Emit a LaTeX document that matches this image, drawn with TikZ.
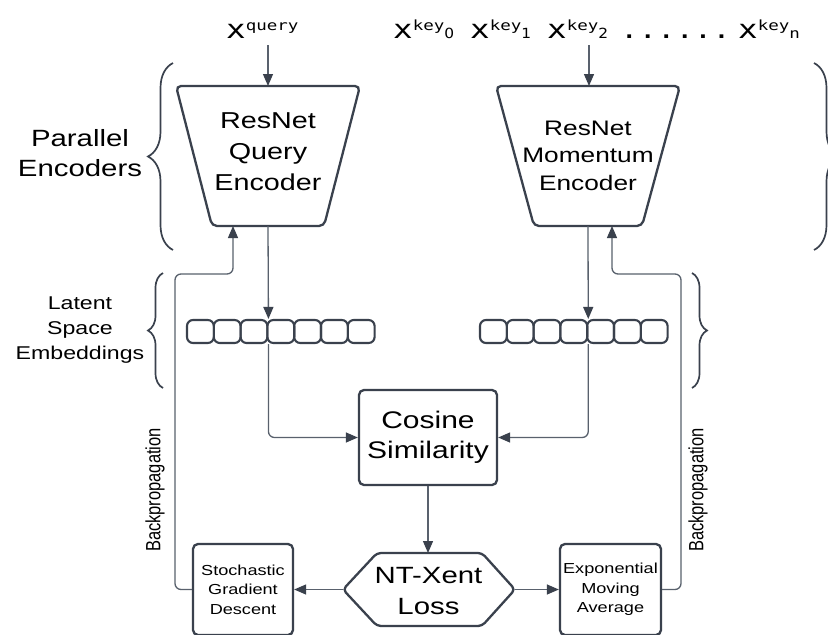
\documentclass[tikz,border=0pt]{standalone}
\usepackage{fontspec}
\setmainfont[FakeStretch=1.25]{Liberation Sans}
\newfontfamily\plainsans{Liberation Sans}
\newfontfamily\monolbl[FakeStretch=1.25]{DejaVu Sans Mono}
\newfontfamily\digitlbl[FakeStretch=1.1]{DejaVu Sans}
\usetikzlibrary{arrows.meta,decorations.pathreplacing}

\definecolor{edge}{HTML}{3A414D}
\definecolor{wire}{HTML}{59616D}

% input labels
\newcommand\basesz{\monolbl\fontsize{26}{26}\selectfont}
\newcommand\supsz{\monolbl\fontsize{14}{14}\selectfont}
\newcommand\subsz{\digitlbl\fontsize{14}{14}\selectfont}
\newcommand\keylbl[1]{{\basesz x}\raisebox{8pt}{\supsz key}{\subsz #1}}
\newcommand\fsz[2]{\fontsize{#1}{#2}\selectfont}

\tikzset{
  boxline/.style={draw=edge, line width=2.3pt},
  conn/.style={draw=wire, line width=1.3pt, -{Triangle[length=12pt,width=10pt,color=edge]}},
  cell/.style={draw=edge, line width=2.1pt, rounded corners=6pt,
    minimum width=26.8pt, minimum height=23pt, inner sep=0pt},
  lbl/.style={align=center, inner sep=0pt, text=black},
  bracestyle/.style={draw=edge, line width=1.7pt, decorate},
}

\begin{document}
\begin{tikzpicture}[x={(1pt,0)}, y={(0,-1pt)}]
\useasboundingbox (0,0) rectangle (828,635);
\fill[white] (0,0) rectangle (828,635);

% ---- inputs ----
\node[anchor=base west, inner sep=0pt] (xq) at (226,38) {{\basesz x}\raisebox{8pt}{\supsz query}};
\node[anchor=base west, inner sep=0pt] (xk0) at (393,38) {\keylbl{0}};
\node[anchor=base west, inner sep=0pt] (xk1) at (470,38) {\keylbl{1}};
\node[anchor=base west, inner sep=0pt] (xk2) at (547,38) {\keylbl{2}};
\node[anchor=base west, inner sep=0pt] (dots) at (620,38) {\monolbl\fontsize{24.5}{24.5}\selectfont ......};
\node[anchor=base west, inner sep=0pt] (xkn) at (738,38) {{\basesz x}\raisebox{8pt}{\supsz key}{\supsz n}};
\coordinate (qin) at (268,45);
\coordinate (kin) at (589,45);

% ---- encoders ----
\draw[boxline, fill=white, rounded corners=5pt]
  (176,86) -- (360,86) -- (324,226) -- (212,226) -- cycle;
\node[lbl, font=\fsz{23}{31}] (qenc) at (268,152) {ResNet\\Query\\Encoder};
\coordinate (qtop) at (268,86);
\coordinate (qbot) at (268,226);
\coordinate (qback) at (233,226);

\draw[boxline, fill=white, rounded corners=5pt]
  (496,86) -- (680,86) -- (642,226) -- (534,226) -- cycle;
\node[lbl, font=\fsz{21}{27.5}] (kenc) at (588,155.5) {ResNet\\Momentum\\Encoder};
\coordinate (ktop) at (589,86);
\coordinate (kbot) at (588,226);
\coordinate (kback) at (612,226);

% ---- side labels and braces ----
\node[lbl, font=\fsz{23.5}{30}] (pe) at (80,153) {Parallel\\Encoders};
\node[lbl, font=\fsz{18.5}{25}] (lse) at (80,330) {Latent\\Space\\Embeddings};

\coordinate (pb1) at (173,250); \coordinate (pb2) at (173,63);
\draw[bracestyle, decoration={brace, amplitude=25pt}] (pb1) -- (pb2);
\coordinate (pb3) at (814,63); \coordinate (pb4) at (814,250);
\draw[bracestyle, decoration={brace, amplitude=25pt}] (pb3) -- (pb4);
\coordinate (lb1) at (163,388); \coordinate (lb2) at (163,273);
\draw[bracestyle, decoration={brace, amplitude=15pt}] (lb1) -- (lb2);
\coordinate (lb3) at (692,273); \coordinate (lb4) at (692,388);
\draw[bracestyle, decoration={brace, amplitude=15pt}] (lb3) -- (lb4);

% ---- embedding vectors ----
\foreach \i in {1,...,7}{
  \node[cell] (q\i) at ({187+26.8*(\i-0.5)},331.5) {};
  \node[cell] (k\i) at ({480+26.8*(\i-0.5)},331.5) {};
}

% ---- similarity, loss and updates ----
\node[boxline, rounded corners=5pt, minimum width=138pt, minimum height=95pt,
  align=center, inner sep=0pt, font=\fsz{24}{30}] (cos) at (428,437.5) {Cosine\\Similarity};

\coordinate (hl) at (343,589.5);
\coordinate (hr) at (515,589.5);
\coordinate (ht) at (428,553);
\draw[boxline, rounded corners=4pt]
  (hl) -- (377,553) -- (482,553) -- (hr) -- (482,626) -- (377,626) -- cycle;
\node[lbl, font=\fsz{23.5}{31}] (loss) at (428.5,591) {NT-Xent\\Loss};

\node[boxline, rounded corners=5pt, minimum width=100pt, minimum height=91pt,
  align=center, inner sep=0pt, font=\fsz{14.5}{19.5}] (sgd) at (243,589.5)
  {Stochastic\\Gradient\\Descent};
\node[boxline, rounded corners=5pt, minimum width=101pt, minimum height=91pt,
  align=center, inner sep=0pt, font=\fsz{14.5}{19.5}] (ema) at (610.5,589.5)
  {Exponential\\Moving\\Average};

% ---- forward connectors ----
\draw[conn] (qin) -- (qtop);
\draw[conn] (kin) -- (ktop);
\draw[conn] (qbot) -- (q3.north east);
\draw[conn] (kbot) -- (k4.north east);
\draw[conn, rounded corners=6pt] (q3.south east) |- (cos.west);
\draw[conn, rounded corners=6pt] (k4.south east) |- (cos.east);
\draw[conn] (cos.south) -- (ht);
\draw[conn] (hl) -- (sgd.east);
\draw[conn] (hr) -- (ema.west);

% ---- update paths ----
\coordinate (lbend) at (175,274);
\coordinate (rbend) at (681,274);
\draw[conn, rounded corners=6pt] (sgd.west) -| (lbend) -| (qback);
\draw[conn, rounded corners=6pt] (ema.east) -| (rbend) -| (kback);

\node[lbl, xscale=1.25, rotate=90, font=\plainsans\fsz{16.5}{18}] (bpl) at (155,490) {Backpropagation};
\node[lbl, xscale=1.25, rotate=90, font=\plainsans\fsz{16.5}{18}] (bpr) at (698,490) {Backpropagation};
\end{tikzpicture}
\end{document}
